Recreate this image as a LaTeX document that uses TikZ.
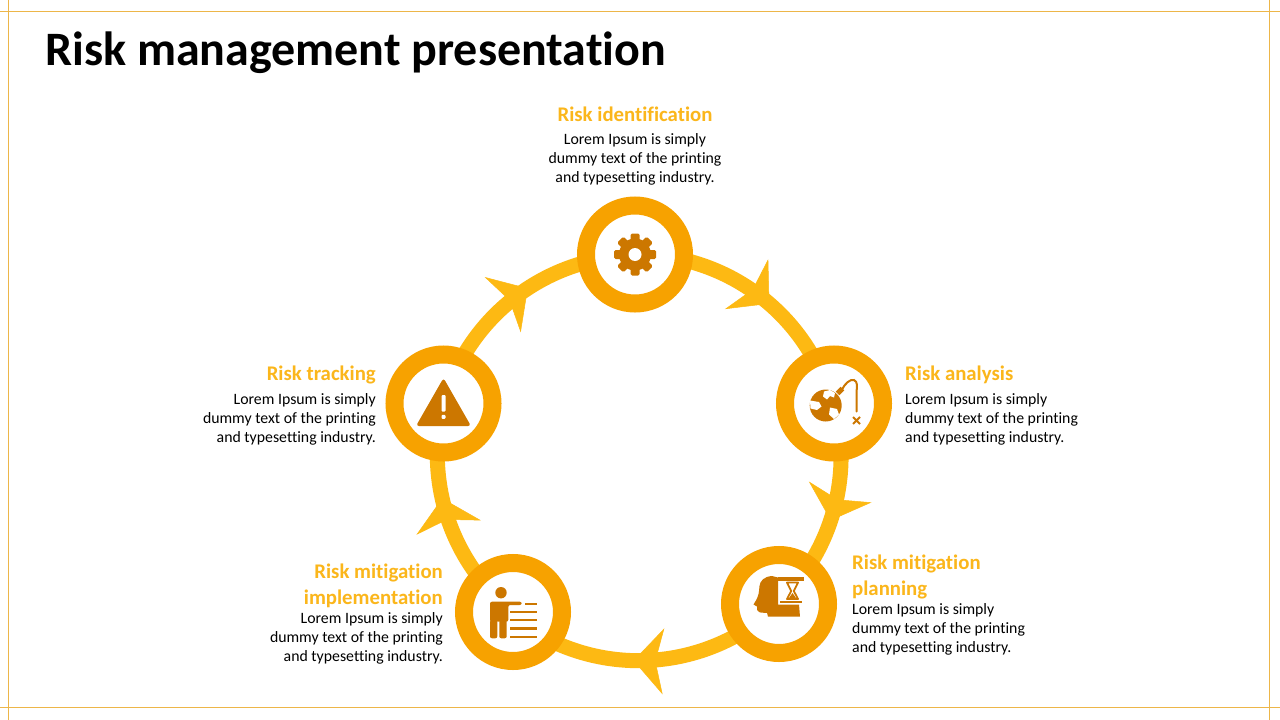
\documentclass[tikz,border=0pt]{standalone}
\usepackage{fontspec}
\setmainfont{Carlito}[Ligatures=NoCommon]
\usetikzlibrary{arrows.meta,decorations.markings,backgrounds}
\definecolor{ringc}{HTML}{F7A200}
\definecolor{arcc}{HTML}{FDB913}
\definecolor{headc}{HTML}{FBB61B}
\definecolor{iconc}{HTML}{CC7700}
\definecolor{guidec}{HTML}{EDB649}
\begin{document}
\begin{tikzpicture}[x=1pt,y=-1pt,
  ring/.style={circle, draw=ringc, line width=18pt, fill=white, minimum size=98pt, inner sep=0pt},
  flow/.style={draw=arcc, line width=15pt, postaction={decorate},
    decoration={markings, mark=at position #1 with {\arrow[color=arcc]{Stealth[length=30pt,width=66pt,inset=8pt,line width=0.5pt]}}}},
  flow/.default=0.55,
  guide/.style={draw=guidec, line width=1pt},
  headtxt/.style={font=\fontsize{20.8}{26}\selectfont\bfseries, text=headc, inner sep=0pt},
  bodytxt/.style={font=\fontsize{15.8}{18.9}\selectfont, text=black, inner sep=0pt},
  icon/.style={fill=iconc}
]
\begin{pgfonlayer}{background}
\fill[white] (0,0) rectangle (1280,720);
\end{pgfonlayer}
\useasboundingbox (0,0) rectangle (1280,720);

% guides
\draw[guide] (0,11) -- (1280,11);
\draw[guide] (8,0) -- (8,720);
\draw[guide] (0,707) -- (1280,707);
\draw[guide] (1269,0) -- (1269,720);

% title
\node[anchor=base west, inner sep=0pt, font=\fontsize{48}{58}\selectfont\bfseries] (title) at (45,65) {Risk management presentation};

% rings
\node[ring] (n1) at (635,254.5) {};
\node[ring] (n2) at (834,403.5) {};
\node[ring] (n3) at (779,604) {};
\node[ring] (n4) at (513,612) {};
\node[ring] (n5) at (443.5,403.5) {};

% flow arcs
\begin{pgfonlayer}{background}
\draw[flow=0.55] (n1.center) arc[start angle=-90.6, end angle=-15.2, radius=202];
\draw[flow=0.55] (n2.center) arc[start angle=-15.2, end angle=46, radius=202];
\draw[flow=0.55] (n3.center) arc[start angle=46, end angle=128.7, radius=202];
\draw[flow=0.58] (n4.center) arc[start angle=128.7, end angle=195.5, radius=202];
\draw[flow=0.56] (n5.center) arc[start angle=195.5, end angle=269.4, radius=202];
\end{pgfonlayer}

% gear icon
\begin{scope}[shift={(n1.center)}]
  \fill[icon] (0,0) circle[radius=16];
  \foreach \a in {0,45,...,315}
    \fill[icon, rotate=\a, rounded corners=1.5pt] (-4.5,-21) rectangle (4.5,-12);
  \fill[white] (0,0) circle[radius=6.5];
\end{scope}

% globe bomb icon
\begin{scope}[shift={(n2.center)}]
  \fill[icon] (-8.3,2) circle[radius=16];
  \fill[white] (-10,-12) -- (-4,-13.5) -- (1,-10.5) -- (0,-6) -- (-4,-7.5) -- (-7,-4) -- (-11,-7) -- cycle;
  \fill[white] (-24,-3) -- (-15,-1.5) -- (-12.5,3) -- (-17,6.5) -- (-23.5,5) -- cycle;
  \fill[white] (-4,4) -- (3,5.5) -- (5,11) -- (0,15.5) -- (-5,11) -- cycle;
  \fill[icon, rotate around={45:(6,-12.5)}] (2.5,-15) rectangle (9.5,-10);
  \draw[iconc, line width=2pt, line cap=round] (8,-14) .. controls (11,-20) and (16,-24.5) .. (20,-23.5) .. controls (24,-22) and (23,-16) .. (22.5,-12) -- (22.5,8);
  \draw[iconc, line width=2pt] (19,13.5) -- (26,20.5) (19,20.5) -- (26,13.5);
\end{scope}

% head with hourglass icon
\begin{scope}[shift={(n3.center)}]
  \fill[icon] (-1,-26.5) -- (-7,-28) .. controls (-15,-27.5) and (-19,-23) .. (-19.5,-18)
    -- (-20,-13) .. controls (-20.5,-8) and (-22,-5) .. (-25.5,0.5) -- (-22,2.5) -- (-22,6)
    .. controls (-21,8.5) and (-18,9) .. (-15,8.8) -- (-12,8.8) -- (-11,12.7) -- (21,12.7)
    -- (20,0.5) -- (-1,0.5) -- cycle;
  \fill[icon] (-1,-26.7) rectangle (25,-23.5);
  \fill[icon] (1,-3.5) rectangle (22.7,-1);
  \draw[iconc, line width=1.8pt, line join=round] (8,-21.5) -- (19,-21.5) -- (14.8,-13) -- (19,-5) -- (8,-5) -- (12.2,-13) -- cycle;
  \fill[icon] (10,-6) -- (17,-6) -- (13.5,-11) -- cycle;
\end{scope}

% person with list icon
\begin{scope}[shift={(n4.center)}]
  \fill[icon] (-12,-19.3) circle[radius=5.7];
  \fill[icon, rounded corners=2pt] (-23,9.7) -- (-23,-10.3) -- (8.7,-10.3) -- (8.7,-7) -- (-4.7,-7) -- (-4.7,9.7) -- cycle;
  \fill[icon, rounded corners=2pt] (-23,8) rectangle (-15.7,26.3);
  \fill[icon, rounded corners=2pt] (-13.7,8) rectangle (-6.3,26.3);
  \foreach \yy in {-0.3,8,16.3,24.7}
    \fill[icon] (-3,\yy-1.2) rectangle (23.7,\yy+1.2);
  \fill[icon] (12,-9.2) rectangle (23.7,-6.8);
\end{scope}

% warning icon
\begin{scope}[shift={(n5.center)}]
  \fill[icon, rounded corners=3pt] (0,-25.5) -- (27.5,22.5) -- (-27.5,22.5) -- cycle;
  \fill[white, rounded corners=1pt] (-2,-8.5) rectangle (2,8.2);
  \fill[white, rounded corners=1pt] (-2,11.3) rectangle (2,15.3);
\end{scope}

% texts (base anchor of a multi-line node = baseline of its last line)
\node[headtxt, anchor=base] (h1) at (635,121.7) {Risk identification};
\node[bodytxt, anchor=base, align=center] (b1) at (635,182.6) {Lorem Ipsum is simply\\dummy text of the printing\\and typesetting industry.};

\node[headtxt, anchor=base west] (h2) at (905,380.5) {Risk analysis};
\node[bodytxt, anchor=base west, align=left] (b2) at (905,442) {Lorem Ipsum is simply\\dummy text of the printing\\and typesetting industry.};

\node[headtxt, anchor=base west, align=left] (h3) at (852,595.5) {Risk mitigation\\planning};
\node[bodytxt, anchor=base west, align=left] (b3) at (852,652.6) {Lorem Ipsum is simply\\dummy text of the printing\\and typesetting industry.};

\node[headtxt, anchor=base east, align=right] (h4) at (443,604.7) {Risk mitigation\\implementation};
\node[bodytxt, anchor=base east, align=right] (b4) at (443,661.6) {Lorem Ipsum is simply\\dummy text of the printing\\and typesetting industry.};

\node[headtxt, anchor=base east] (h5) at (376,380.5) {Risk tracking};
\node[bodytxt, anchor=base east, align=right] (b5) at (376,442) {Lorem Ipsum is simply\\dummy text of the printing\\and typesetting industry.};
\end{tikzpicture}
\end{document}
